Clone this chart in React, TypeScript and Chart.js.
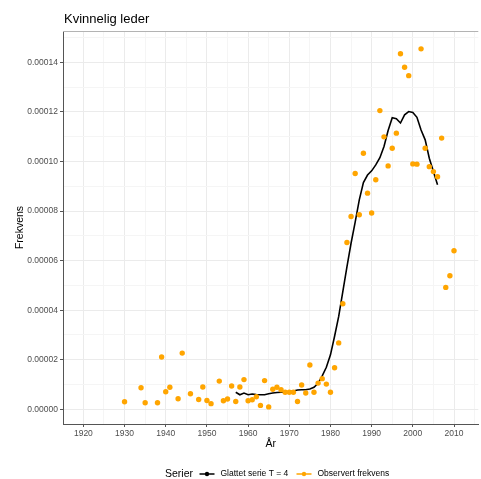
import React, { useEffect, useRef } from "react";
import { Chart, registerables } from "chart.js";

Chart.register(...registerables);

// Observed yearly frequency
const obsYears = [
  1930, 1934, 1935, 1938, 1939, 1940, 1941, 1943, 1944, 1946, 1948, 1949, 1950, 1951,
  1953, 1954, 1955, 1956, 1957, 1958, 1959, 1960, 1961, 1962, 1963, 1964, 1965, 1966,
  1967, 1968, 1969, 1970, 1971, 1972, 1973, 1974, 1975, 1976, 1977, 1978, 1979, 1980,
  1981, 1982, 1983, 1984, 1985, 1986, 1987, 1988, 1989, 1990, 1991, 1992, 1993, 1994,
  1995, 1996, 1997, 1998, 1999, 2000, 2001, 2002, 2003, 2004, 2005, 2006, 2007, 2008,
  2009, 2010,
];
const obsValues = [
  3.1e-6, 8.7e-6, 2.7e-6, 2.7e-6, 21.1e-6, 7.1e-6, 8.9e-6, 4.3e-6, 22.7e-6, 6.3e-6, 4.0e-6, 9.0e-6, 3.6e-6, 2.3e-6,
  11.4e-6, 3.5e-6, 4.2e-6, 9.4e-6, 3.2e-6, 9.0e-6, 12.0e-6, 3.5e-6, 3.9e-6, 5.1e-6, 1.6e-6, 11.6e-6, 1.0e-6, 8.1e-6,
  8.9e-6, 7.9e-6, 6.9e-6, 6.9e-6, 6.9e-6, 3.2e-6, 9.8e-6, 6.6e-6, 17.9e-6, 6.9e-6, 10.6e-6, 12.4e-6, 10.2e-6, 6.9e-6,
  16.8e-6, 26.8e-6, 42.6e-6, 67.3e-6, 77.8e-6, 95.1e-6, 78.5e-6, 103.3e-6, 87.2e-6, 79.2e-6, 92.6e-6, 120.5e-6, 109.9e-6, 98.2e-6,
  105.3e-6, 111.4e-6, 143.4e-6, 138.0e-6, 134.6e-6, 99.0e-6, 98.9e-6, 145.4e-6, 105.3e-6, 97.9e-6, 95.9e-6, 93.8e-6, 109.4e-6, 49.2e-6,
  53.9e-6, 64.0e-6,
];

// Smoothed series (T = 4)
const smoothYears = [
  1957, 1958, 1959, 1960, 1961, 1962, 1963, 1964, 1965, 1966, 1967, 1968, 1969, 1970,
  1971, 1972, 1973, 1974, 1975, 1976, 1977, 1978, 1979, 1980, 1981, 1982, 1983, 1984,
  1985, 1986, 1987, 1988, 1989, 1990, 1991, 1992, 1993, 1994, 1995, 1996, 1997, 1998,
  1999, 2000, 2001, 2002, 2003, 2004, 2005, 2006,
];
const smoothValues = [
  6.9e-6, 5.9e-6, 6.6e-6, 5.9e-6, 6.2e-6, 6.0e-6, 5.9e-6, 5.9e-6, 6.3e-6, 6.6e-6, 6.8e-6, 6.9e-6, 7.0e-6, 7.0e-6,
  7.4e-6, 7.8e-6, 7.9e-6, 7.9e-6, 8.2e-6, 8.9e-6, 10.5e-6, 13.5e-6, 17.0e-6, 22.0e-6, 29.5e-6, 37.5e-6, 47.5e-6, 57.5e-6,
  67.0e-6, 75.5e-6, 84.5e-6, 91.5e-6, 94.5e-6, 96.2e-6, 98.6e-6, 101.5e-6, 106.0e-6, 112.5e-6, 117.6e-6, 117.2e-6, 115.5e-6, 118.8e-6,
  120.1e-6, 119.7e-6, 117.8e-6, 112.7e-6, 108.7e-6, 101.3e-6, 95.9e-6, 90.6e-6,
];

// Axis ticks (major ticks carry labels, the ones between are minor grid lines)
const xTicks = [1920, 1925, 1930, 1935, 1940, 1945, 1950, 1955, 1960, 1965, 1970, 1975, 1980, 1985, 1990, 1995, 2000, 2005, 2010, 2015];
const yTicks = [0, 1e-5, 2e-5, 3e-5, 4e-5, 5e-5, 6e-5, 7e-5, 8e-5, 9e-5, 10e-5, 11e-5, 12e-5, 13e-5, 14e-5, 15e-5];

const TITLE = "Kvinnelig leder";
const X_TITLE = "År";
const Y_TITLE = "Frekvens";
const LEGEND_TITLE = "Serier";
const SMOOTH_LABEL = "Glattet serie T = 4";
const OBS_LABEL = "Observert frekvens";

const FONT = "'Liberation Sans', Arial, sans-serif";
const ORANGE = "#FFA500";

const isMajorX = (v: number) => Math.round(v) % 10 === 0;
const isMajorY = (v: number) => Math.round(v / 1e-5) % 2 === 0;

const decorations = {
  id: "decorations",
  afterDraw(chart: any) {
    const { ctx, chartArea } = chart;
    ctx.save();

    // top panel border
    ctx.strokeStyle = "#B3B3B3";
    ctx.lineWidth = 1;
    ctx.beginPath();
    ctx.moveTo(chartArea.left, Math.round(chartArea.top) + 0.5);
    ctx.lineTo(chartArea.right, Math.round(chartArea.top) + 0.5);
    ctx.stroke();

    // title
    ctx.fillStyle = "#000";
    ctx.textBaseline = "alphabetic";
    ctx.textAlign = "left";
    ctx.font = `13px ${FONT}`;
    ctx.fillText(TITLE, chartArea.left + 1, 23);

    // axis titles
    ctx.font = `10.5px ${FONT}`;
    ctx.textAlign = "center";
    ctx.textBaseline = "middle";
    ctx.fillText(X_TITLE, (chartArea.left + chartArea.right) / 2, 444);
    ctx.save();
    ctx.translate(20, (chartArea.top + chartArea.bottom) / 2);
    ctx.rotate(-Math.PI / 2);
    ctx.fillText(Y_TITLE, 0, 0);
    ctx.restore();

    // legend
    const ly = 474;
    ctx.textAlign = "left";
    ctx.font = `10.5px ${FONT}`;
    ctx.fillText(LEGEND_TITLE, 165, ly);

    const key = (x0: number, color: string) => {
      ctx.strokeStyle = color;
      ctx.lineWidth = 1.5;
      ctx.beginPath();
      ctx.moveTo(x0, ly);
      ctx.lineTo(x0 + 15, ly);
      ctx.stroke();
      ctx.fillStyle = color;
      ctx.beginPath();
      ctx.arc(x0 + 7.5, ly, 2.2, 0, Math.PI * 2);
      ctx.fill();
    };
    key(199.5, "#000");
    key(296.5, ORANGE);

    ctx.fillStyle = "#000";
    ctx.font = `8.5px ${FONT}`;
    ctx.fillText(SMOOTH_LABEL, 220.5, ly);
    ctx.fillText(OBS_LABEL, 317.5, ly);

    ctx.restore();
  },
};

export default function App() {
  const canvasRef = useRef<HTMLCanvasElement | null>(null);

  useEffect(() => {
    document.body.style.margin = "0";
    const canvas = canvasRef.current;
    if (!canvas) return;

    const chart = new Chart(canvas, {
      type: "line",
      data: {
        datasets: [
          {
            label: OBS_LABEL,
            data: obsYears.map((x, i) => ({ x, y: obsValues[i] })),
            showLine: false,
            pointRadius: 2.7,
            pointBackgroundColor: ORANGE,
            pointBorderWidth: 0,
            pointHoverRadius: 2.7,
            order: 0,
          },
          {
            label: SMOOTH_LABEL,
            data: smoothYears.map((x, i) => ({ x, y: smoothValues[i] })),
            borderColor: "#000",
            borderWidth: 1.6,
            pointRadius: 0,
            tension: 0,
            fill: false,
            order: 1,
          },
        ],
      },
      options: {
        responsive: false,
        animation: false,
        devicePixelRatio: 1,
        layout: { padding: { left: 0, right: 0, top: 31, bottom: 0 } },
        plugins: {
          legend: { display: false },
          title: { display: false },
          tooltip: { enabled: false },
        },
        scales: {
          x: {
            type: "linear",
            min: 1915.05,
            max: 2015.9,
            afterBuildTicks: (scale: any) => {
              scale.ticks = xTicks.map((v) => ({ value: v }));
            },
            afterFit: (scale: any) => {
              scale.height = 55;
            },
            ticks: {
              autoSkip: false,
              maxRotation: 0,
              padding: 2,
              color: "#4D4D4D",
              font: { family: FONT, size: 8.5 },
              callback: (v: any) => (isMajorX(Number(v)) ? String(v) : ""),
            },
            grid: {
              color: (c: any) => (isMajorX(c.tick?.value ?? 0) ? "#EBEBEB" : "#F5F5F5"),
              lineWidth: 1,
              drawTicks: true,
              tickLength: 3,
              tickColor: (c: any) => (isMajorX(c.tick?.value ?? 0) ? "#555" : "rgba(0,0,0,0)"),
            },
            border: { display: true, color: "#555", width: 1 },
          },
          y: {
            type: "linear",
            min: -5.9e-6,
            max: 1.526e-4,
            afterBuildTicks: (scale: any) => {
              scale.ticks = yTicks.map((v) => ({ value: v }));
            },
            afterFit: (scale: any) => {
              scale.width = 63;
            },
            ticks: {
              autoSkip: false,
              padding: 2,
              color: "#4D4D4D",
              font: { family: FONT, size: 8.5 },
              callback: (v: any) => (isMajorY(Number(v)) ? Number(v).toFixed(5) : ""),
            },
            grid: {
              color: (c: any) => (isMajorY(c.tick?.value ?? 0) ? "#EBEBEB" : "#F5F5F5"),
              lineWidth: 1,
              drawTicks: true,
              tickLength: 3,
              tickColor: (c: any) => (isMajorY(c.tick?.value ?? 0) ? "#555" : "rgba(0,0,0,0)"),
            },
            border: { display: true, color: "#555", width: 1 },
          },
        },
      },
      plugins: [decorations],
    });

    return () => chart.destroy();
  }, []);

  return (
    <div style={{ width: 481, height: 479, background: "#fff" }}>
      <canvas ref={canvasRef} width={481} height={479} style={{ display: "block" }} />
    </div>
  );
}
